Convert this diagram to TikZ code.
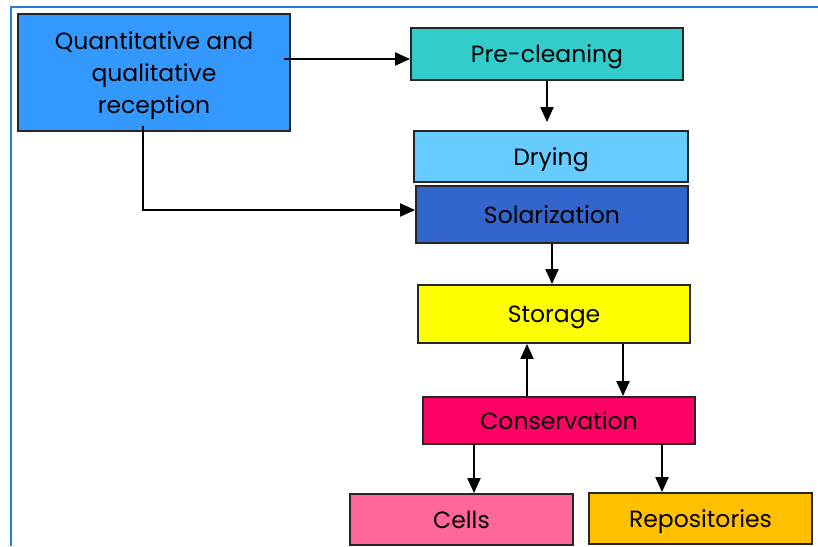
\documentclass[tikz,border=0pt]{standalone}
\usepackage{fontspec}
\setmainfont{Poppins}
\usetikzlibrary{arrows.meta}

\definecolor{quantblue}{RGB}{51,153,255}
\definecolor{precleancol}{RGB}{51,204,204}
\definecolor{dryingcol}{RGB}{102,204,255}
\definecolor{solarcol}{RGB}{51,102,204}
\definecolor{storagecol}{RGB}{255,255,0}
\definecolor{conservcol}{RGB}{255,0,102}
\definecolor{cellscol}{RGB}{255,102,153}
\definecolor{reposcol}{RGB}{255,192,0}
\definecolor{framecol}{RGB}{30,128,215}

\tikzset{
  stagebox/.style={draw=black!85, line width=1.8pt, inner sep=0pt,
    font=\fontsize{23.5}{32}\selectfont, align=center,
    text height=17pt, text depth=0pt},
  arr/.style={line width=2pt, -{Triangle[length=15pt,width=13pt]}}
}

\begin{document}
\begin{tikzpicture}[x=1pt,y=-1pt]
\useasboundingbox (0,0) rectangle (818,546);
% frame
\draw[framecol, line width=1.5pt] (11,546) -- (11,7) -- (818,7);

% stages
\node[stagebox, fill=quantblue, minimum width=272pt, minimum height=117pt, text height=81pt] (quant) at (154,72.5) {Quantitative and\\qualitative\\reception};
\node[stagebox, fill=precleancol, minimum width=272pt, minimum height=52pt] (preclean) at (547,54) {Pre-cleaning};
\node[stagebox, fill=dryingcol, minimum width=274pt, minimum height=51pt] (drying) at (551,156.5) {Drying};
\node[stagebox, fill=solarcol, minimum width=272pt, minimum height=57pt] (solar) at (552,214.5) {Solarization};
\node[stagebox, fill=storagecol, minimum width=272pt, minimum height=58pt] (storage) at (554,314) {Storage};
\node[stagebox, fill=conservcol, minimum width=272pt, minimum height=47pt] (conserv) at (559,420.5) {Conservation};
\node[stagebox, fill=cellscol, minimum width=223pt, minimum height=51pt] (cells) at (461.5,519.5) {Cells};
\node[stagebox, fill=reposcol, minimum width=223pt, minimum height=51pt] (repos) at (700.5,518.5) {Repositories};

% connectors
\coordinate (qa) at ([xshift=-7pt,yshift=13.5pt]quant.east);
\draw[arr] (qa) -- (qa -| preclean.west);
\draw[arr] (preclean.south) -- ([yshift=8pt]preclean.south |- drying.north);
\draw[arr] ([xshift=-11pt,yshift=6pt]quant.south) |- ([yshift=4.5pt]solar.west);
\draw[arr] (solar.south) -- (solar.south |- storage.north);
\draw[arr] ([xshift=69pt]storage.south) -- ([xshift=69pt]storage.south |- conserv.north);
\draw[arr] ([xshift=-27pt]storage.south |- conserv.north) -- ([xshift=-27pt]storage.south);
\draw[arr] ([xshift=-85pt]conserv.south) -- ([xshift=-85pt]conserv.south |- cells.north);
\draw[arr] ([xshift=103pt]conserv.south) -- ([xshift=103pt]conserv.south |- repos.north);
\end{tikzpicture}
\end{document}
